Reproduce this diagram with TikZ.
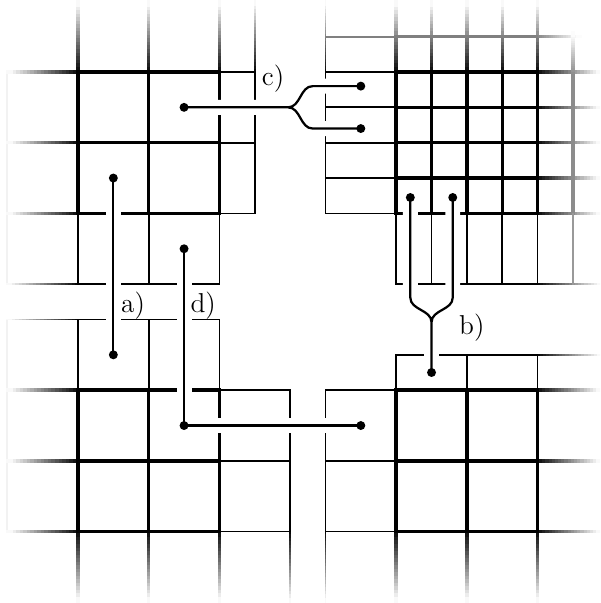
\documentclass[tikz,border=0pt]{standalone}
\tikzset{
  thk/.style={line width=1.4pt, line cap=rect},
  thn/.style={line width=0.7pt, line cap=rect},
  conn/.style={line width=0.9pt, preaction={draw=white, line width=6pt}},
  dot/.style={circle, fill=black, inner sep=0pt, minimum size=3.6pt},
  lbl/.style={font=\fontsize{11pt}{13pt}\selectfont, inner sep=0pt}
}
% #1,#2 start (dark end), #3,#4 run to the light end, #5 line width (pt), #6 darkness at start (percent)
\newcommand\fadeline[6]{%
  \foreach \i in {0,...,19} {
    \pgfmathsetmacro\fadepct{#6*(1-(\i+0.5)/20)}
    \draw[line width=#5pt, line cap=rect, black!\fadepct]
      ({#1+#3*\i/20},{#2+#4*\i/20}) -- ({#1+#3*(\i+1)/20},{#2+#4*(\i+1)/20});
  }%
}
\begin{document}
\begin{tikzpicture}
\fill[white] (-1.103,1.018) rectangle (7.383,-7.51);
\useasboundingbox (-1.103,1.018) rectangle (7.383,-7.51);
\begin{scope}
\clip (-1.103,1.018) rectangle (7.383,-7.51);
% ---------- fading ends of the grid lines
% faint outer borders
\draw[thn, black!5] (-1,0) -- (-1,-3) (-1,-3.5) -- (-1,-6.5);
% top strip (verticals)
\foreach \x/\w in {0/1.4,1/1.4,2/1.4,4.5/1.4,5/1.4,5.5/1.4,6/1.4,6.5/1.4,2.5/0.7,3.5/0.7}
  {\fadeline{\x}{0}{0}{1}{\w}{100}}
% left strip (horizontals)
\foreach \y/\w in {0/1.4,1/1.4,2/1.4,4.5/1.4,5.5/1.4,6.5/1.4,3/0.7,3.5/0.7}
  {\fadeline{0}{-\y}{-1}{0}{\w}{100}}
% right strip (horizontals)
\foreach \y/\w in {0/1.4,0.5/1.4,1/1.4,1.5/1.4,2/1.4,4.5/1.4,5.5/1.4,6.5/1.4,3/0.7,4/0.7}
  {\fadeline{6.5}{-\y}{0.9}{0}{\w}{100}}
% bottom strip (verticals)
\foreach \x/\w in {0/1.4,1/1.4,2/1.4,4.5/1.4,5.5/1.4,6.5/1.4,3/0.7,3.5/0.7}
  {\fadeline{\x}{-6.5}{0}{-1}{\w}{100}}
% half-faded row and column in the top-right corner
\draw[thn, black!50] (3.5,0.5) -- (4.5,0.5);
\draw[thk, black!50] (4.5,0.5) -- (6.5,0.5);
\fadeline{6.5}{0.5}{0.6}{0}{1.4}{50}
\draw[thk, black!45] (7,0) -- (7,-2);
\fadeline{7}{0}{0}{0.55}{1.4}{45}
\draw[thn, black!40] (7,-2) -- (7,-3);
% ---------- top-left patch (coarse)
\foreach \y in {0,1,2} {
  \draw[thk] (0,-\y) -- (2,-\y);
  \draw[thn] (2,-\y) -- (2.5,-\y);
}
\foreach \x in {0,1,2} {
  \draw[thk] (\x,0) -- (\x,-2);
  \draw[thn] (\x,-2) -- (\x,-3);
}
\draw[thn] (2.5,0) -- (2.5,-2);
\draw[thn] (0,-3) -- (2,-3);
% ---------- bottom-left patch (coarse)
\foreach \y in {4.5,5.5,6.5} {
  \draw[thk] (0,-\y) -- (2,-\y);
  \draw[thn] (2,-\y) -- (3,-\y);
}
\foreach \x in {0,1,2} {
  \draw[thk] (\x,-4.5) -- (\x,-6.5);
  \draw[thn] (\x,-3.5) -- (\x,-4.5);
}
\draw[thn] (3,-4.5) -- (3,-6.5);
\draw[thn] (0,-3.5) -- (2,-3.5);
% ---------- top-right patch (fine)
\foreach \x in {4.5,5,5.5,6,6.5} {
  \draw[thk] (\x,0) -- (\x,-2);
  \draw[thn] (\x,-2) -- (\x,-3);
}
\draw[thn] (3.5,0) -- (3.5,-2);
\foreach \y in {0,0.5,1,1.5,2} {
  \draw[thk] (4.5,-\y) -- (6.5,-\y);
  \draw[thn] (3.5,-\y) -- (4.5,-\y);
}
\draw[thn] (4.5,-3) -- (6.5,-3);
% ---------- bottom-right patch (coarse)
\foreach \x in {4.5,5.5,6.5} {
  \draw[thk] (\x,-4.5) -- (\x,-6.5);
  \draw[thn] (\x,-4) -- (\x,-4.5);
}
\draw[thn] (3.5,-4.5) -- (3.5,-6.5);
\foreach \y in {4.5,5.5,6.5} {
  \draw[thk] (4.5,-\y) -- (6.5,-\y);
  \draw[thn] (3.5,-\y) -- (4.5,-\y);
}
\draw[thn] (4.5,-4) -- (6.5,-4);
\end{scope}
% ---------- connector points
\coordinate (a1) at (0.5,-1.5);
\coordinate (a2) at (0.5,-4);
\coordinate (d1) at (1.5,-2.5);
\coordinate (d2) at (1.5,-5);
\coordinate (d3) at (4,-5);
\coordinate (c0) at (1.5,-0.5);
\coordinate (cf) at (2.97,-0.5);
\coordinate (cb1) at (3.32,-0.2);
\coordinate (cb2) at (3.32,-0.8);
\coordinate (c1) at (4,-0.2);
\coordinate (c2) at (4,-0.8);
\coordinate (b0) at (5,-4.25);
\coordinate (bm) at (5,-3.54);
\coordinate (bb1) at (4.7,-3.19);
\coordinate (bb2) at (5.3,-3.19);
\coordinate (b1) at (4.7,-1.775);
\coordinate (b2) at (5.3,-1.775);
% ---------- connectors
\draw[conn] (a1) -- (a2);
\draw[conn] (d1) -- (d2) -- (d3);
\draw[conn] (c0) -- (cf) to[out=0,in=180] (cb1) -- (c1)
            (cf) to[out=0,in=180] (cb2) -- (c2);
\draw[conn] (b0) -- (bm) to[out=90,in=-90] (bb1) -- (b1)
            (bm) to[out=90,in=-90] (bb2) -- (b2);
% ---------- dots
\foreach \p in {a1,a2,d1,d2,d3,c0,c1,c2,b0,b1,b2} {
  \node[dot] (\p dot) at (\p) {};
}
% ---------- labels
\node[lbl] (la) at (0.78,-3.30) {a)};
\node[lbl] (ld) at (1.77,-3.30) {d)};
\node[lbl] (lc) at (2.76,-0.09) {c)};
\node[lbl] (lb) at (5.57,-3.62) {b)};
\end{tikzpicture}
\end{document}
